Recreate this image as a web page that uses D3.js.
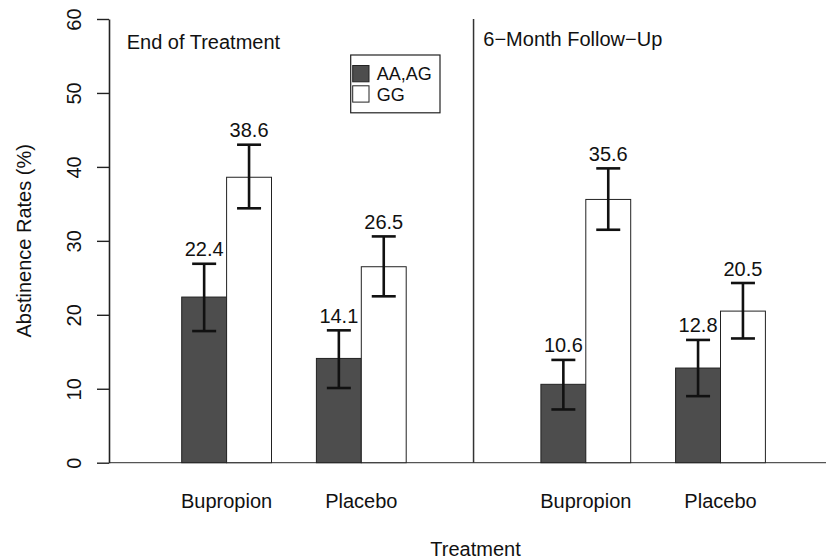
<!DOCTYPE html>
<html>
<head>
<meta charset="utf-8">
<script src="https://cdn.jsdelivr.net/npm/d3@7"></script>
<style>
  html, body { margin: 0; padding: 0; background: #fff; }
  svg { display: block; font-family: "Liberation Sans", Arial, Helvetica, sans-serif; }
</style>
</head>
<body>
<svg id="chart" width="826" height="559"></svg>
<script>
// ---- data ----
const panels = ["End of Treatment", "6\u2212Month Follow\u2212Up"];
const treatments = ["Bupropion", "Placebo", "Bupropion", "Placebo"];
const genotypes = ["AA,AG", "GG"];
const aaagValues = [22.4, 14.1, 10.6, 12.8];
const ggValues = [38.6, 26.5, 35.6, 20.5];
const aaagLow = [17.8, 10.1, 7.2, 9.0];
const aaagHigh = [26.9, 17.9, 13.9, 16.6];
const ggLow = [34.4, 22.5, 31.5, 16.8];
const ggHigh = [43.0, 30.6, 39.8, 24.3];
const yTicks = [0, 10, 20, 30, 40, 50, 60];
const yTitle = "Abstinence Rates (%)";
const xTitle = "Treatment";

// ---- layout ----
const svg = d3.select("#chart");
const fontSize = 20;
const legendFont = 18;
const colors = ["#4d4d4d", "#ffffff"];

// bar-unit positions: each group = 2 bar widths, gaps of 1 within panel, 3 between panels
const groupStart = [0, 3, 8, 11];
const x = d3.scaleLinear().domain([0, 13]).range([181.7, 765.4]);
const barW = x(1) - x(0);
const y = d3.scaleLinear().domain([0, 60]).range([462.7, 19]);
const axisX = 109;

// baseline at 0
svg.append("line")
  .attr("x1", axisX).attr("x2", 826)
  .attr("y1", y(0)).attr("y2", y(0))
  .attr("stroke", "#555").attr("stroke-width", 1.2);

// divider between panels
const divU = (groupStart[1] + 2 + groupStart[2]) / 2;
svg.append("line")
  .attr("x1", x(divU)).attr("x2", x(divU))
  .attr("y1", y(60)).attr("y2", y(0))
  .attr("stroke", "#333").attr("stroke-width", 1.5);

// y axis
const yAxis = d3.axisLeft(y).tickValues(yTicks).tickSize(12).tickSizeOuter(0).tickFormat(d3.format("d"));
const ag = svg.append("g").attr("transform", `translate(${axisX},0)`).call(yAxis);
ag.attr("font-size", null).attr("font-family", null);
ag.select(".domain").attr("stroke", "#222").attr("stroke-width", 1.6);
ag.selectAll(".tick line").attr("stroke", "#222").attr("stroke-width", 1.4);
ag.selectAll(".tick text")
  .attr("x", null).attr("dy", null)
  .attr("transform", "translate(-28,0) rotate(-90)")
  .attr("text-anchor", "middle")
  .attr("fill", "#111")
  .style("font-size", fontSize + "px");

// y title
svg.append("text")
  .attr("transform", `translate(31,${(y(0) + y(60)) / 2}) rotate(-90)`)
  .attr("text-anchor", "middle")
  .attr("fill", "#111")
  .style("font-size", fontSize + "px")
  .text(yTitle);

// bars
const series = [
  { vals: aaagValues, lo: aaagLow, hi: aaagHigh, off: 0, fill: colors[0] },
  { vals: ggValues, lo: ggLow, hi: ggHigh, off: 1, fill: colors[1] }
];
series.forEach(s => {
  const g = svg.append("g");
  s.vals.forEach((v, i) => {
    const u = groupStart[i] + s.off;
    g.append("rect")
      .attr("x", x(u)).attr("width", barW)
      .attr("y", y(v)).attr("height", y(0) - y(v))
      .attr("fill", s.fill).attr("stroke", "#222").attr("stroke-width", 1);
  });
});

// error bars and value labels
series.forEach(s => {
  const g = svg.append("g");
  s.vals.forEach((v, i) => {
    const cx = x(groupStart[i] + s.off + 0.5);
    g.append("line").attr("x1", cx).attr("x2", cx)
      .attr("y1", y(s.lo[i])).attr("y2", y(s.hi[i]))
      .attr("stroke", "#111").attr("stroke-width", 2.6);
    [s.lo[i], s.hi[i]].forEach(e => {
      g.append("line").attr("x1", cx - 12).attr("x2", cx + 12)
        .attr("y1", y(e)).attr("y2", y(e))
        .attr("stroke", "#111").attr("stroke-width", 2.6);
    });
    g.append("text")
      .attr("x", cx).attr("y", y(s.hi[i]) - 7.5)
      .attr("text-anchor", "middle").attr("fill", "#111")
      .style("font-size", fontSize + "px")
      .text(v.toFixed(1));
  });
});

// category labels
treatments.forEach((t, i) => {
  svg.append("text")
    .attr("x", x(groupStart[i] + 1)).attr("y", 508)
    .attr("text-anchor", "middle").attr("fill", "#111")
    .style("font-size", fontSize + "px")
    .text(t);
});

// x title
svg.append("text")
  .attr("x", x(divU) + 2).attr("y", 556)
  .attr("text-anchor", "middle").attr("fill", "#111")
  .style("font-size", fontSize + "px")
  .text(xTitle);

// panel titles
svg.append("text").attr("x", 126.7).attr("y", 49)
  .attr("fill", "#111").style("font-size", fontSize + "px").text(panels[0]);
svg.append("text").attr("x", 483.3).attr("y", 46)
  .attr("fill", "#111").style("font-size", fontSize + "px").text(panels[1]);

// legend
const lg = svg.append("g");
lg.append("rect").attr("x", 350.7).attr("y", 55).attr("width", 89.3).attr("height", 57.8)
  .attr("fill", "#fff").attr("stroke", "#222").attr("stroke-width", 1.2);
genotypes.forEach((gname, i) => {
  lg.append("rect").attr("x", 352.7).attr("y", 65.5 + i * 20.3).attr("width", 16.3).attr("height", 16.3)
    .attr("fill", colors[i]).attr("stroke", "#222").attr("stroke-width", 1);
  lg.append("text").attr("x", 376.7).attr("y", 80.3 + i * 20.3)
    .attr("fill", "#111").style("font-size", legendFont + "px").text(gname);
});
</script>
</body>
</html>
